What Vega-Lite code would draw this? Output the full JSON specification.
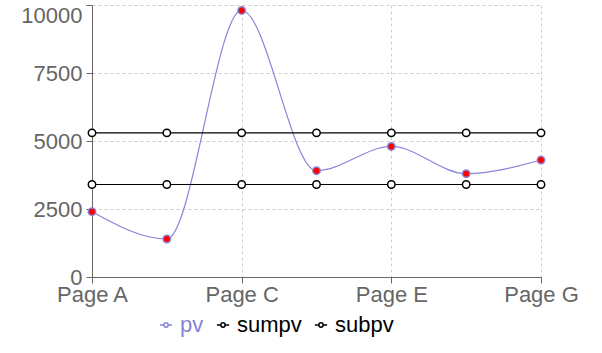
{
  "$schema": "https://vega.github.io/schema/vega-lite/v6.json",
  "width": 449,
  "height": 272,
  "autosize": {"type": "none"},
  "padding": {"left": 92, "top": 5, "right": 61, "bottom": 76},
  "background": "white",
  "config": {
    "view": {"stroke": null},
    "font": "Liberation Sans",
    "axis": {
      "labelFont": "Liberation Sans",
      "labelFontSize": 22,
      "labelColor": "#666666",
      "domainColor": "#666666",
      "tickColor": "#666666",
      "tickSize": 6,
      "gridColor": "#cccccc",
      "gridDash": [3, 3],
      "title": null
    }
  },
  "data": {
    "values": [
      {"page": "Page A", "series": "pv", "value": 2400},
      {"page": "Page B", "series": "pv", "value": 1398},
      {"page": "Page C", "series": "pv", "value": 9800},
      {"page": "Page D", "series": "pv", "value": 3908},
      {"page": "Page E", "series": "pv", "value": 4800},
      {"page": "Page F", "series": "pv", "value": 3800},
      {"page": "Page G", "series": "pv", "value": 4300},
      {"page": "Page A", "series": "sumpv", "value": 5300},
      {"page": "Page B", "series": "sumpv", "value": 5300},
      {"page": "Page C", "series": "sumpv", "value": 5300},
      {"page": "Page D", "series": "sumpv", "value": 5300},
      {"page": "Page E", "series": "sumpv", "value": 5300},
      {"page": "Page F", "series": "sumpv", "value": 5300},
      {"page": "Page G", "series": "sumpv", "value": 5300},
      {"page": "Page A", "series": "subpv", "value": 3400},
      {"page": "Page B", "series": "subpv", "value": 3400},
      {"page": "Page C", "series": "subpv", "value": 3400},
      {"page": "Page D", "series": "subpv", "value": 3400},
      {"page": "Page E", "series": "subpv", "value": 3400},
      {"page": "Page F", "series": "subpv", "value": 3400},
      {"page": "Page G", "series": "subpv", "value": 3400}
    ]
  },
  "encoding": {
    "x": {
      "field": "page",
      "type": "ordinal",
      "scale": {"type": "point", "padding": 0},
      "axis": {
        "values": ["Page A", "Page C", "Page E", "Page G"],
        "labelAngle": 0,
        "grid": true,
        "labelPadding": 1
      }
    },
    "y": {
      "field": "value",
      "type": "quantitative",
      "scale": {"domain": [0, 10000], "nice": false},
      "axis": {
        "values": [0, 2500, 5000, 7500, 10000],
        "format": "d",
        "grid": true,
        "labelPadding": 4,
        "labelOffset": {"condition": {"test": "datum.value === 10000", "value": 10}, "value": 0}
      }
    },
    "color": {
      "field": "series",
      "type": "nominal",
      "scale": {"domain": ["pv", "sumpv", "subpv"], "range": ["#8884d8", "#000000", "#000000"]},
      "legend": {
        "orient": "none",
        "direction": "horizontal",
        "legendX": 63,
        "legendY": 309,
        "title": null,
        "labelFont": "Liberation Sans",
        "labelFontSize": 22,
        "labelOffset": 3,
        "columnPadding": 8,
        "symbolType": "M-1,0H-0.35M0.35,0H1M0.35,0A0.35,0.35,0,1,1,-0.35,0A0.35,0.35,0,1,1,0.35,0Z",
        "symbolSize": 150,
        "symbolStrokeWidth": 1.5,
        "symbolFillColor": "white",
        "encode": {
          "labels": {"update": {"fill": {"signal": "datum.label === 'pv' ? '#8884d8' : '#000000'"}}}
        }
      }
    }
  },
  "layer": [
    {
      "mark": {"type": "line", "interpolate": "monotone", "strokeWidth": 1.2}
    },
    {
      "mark": {"type": "point", "filled": false, "size": 55, "strokeWidth": 1.5, "opacity": 1},
      "encoding": {
        "fill": {
          "condition": {"test": "datum.series === 'pv'", "value": "#ff0000"},
          "value": "#ffffff"
        }
      }
    }
  ]
}
